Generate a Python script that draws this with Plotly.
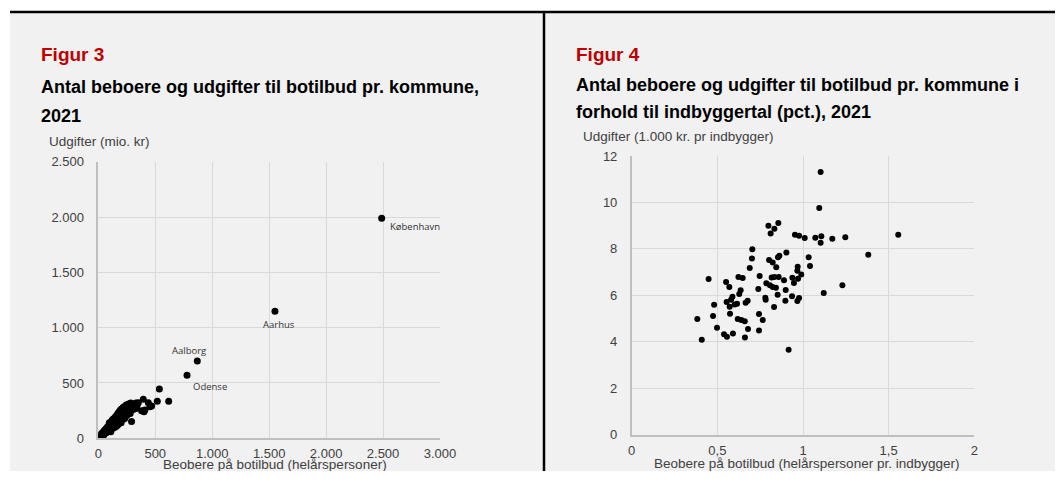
import plotly.graph_objects as go

# ---------------- DATA ----------------
# Figur 3: beboere (helårspersoner) vs udgifter (mio. kr)
beboere_abs = [10, 15, 22, 28, 35, 40, 48, 52, 60, 65, 70, 75, 80, 85, 90, 97, 100, 105, 110, 115,
               118, 122, 128, 132, 135, 140, 145, 148, 152, 155, 160, 161, 165, 168, 172, 175, 178, 180, 185, 188,
               190, 195, 198, 200, 205, 208, 212, 215, 220, 225, 228, 232, 238, 240, 245, 250, 255, 260, 265, 270,
               275, 280, 285, 292, 298, 305, 307, 315, 320, 330, 337, 345, 351, 380, 395, 401, 409, 439, 454, 468,
               518, 536, 618, 779, 869, 1551, 2488]
udgifter_abs = [8, 25, 10, 40, 22, 55, 30, 70, 45, 85, 50, 95, 60, 110, 70, 141, 85, 130, 60, 150,
                95, 165, 90, 175, 120, 180, 100, 190, 130, 200, 110, 150, 210, 140, 225, 125, 230, 160, 240, 150,
                250, 175, 260, 140, 265, 190, 270, 170, 280, 200, 285, 180, 290, 215, 300, 205, 295, 230, 310, 240,
                305, 225, 320, 151, 280, 300, 260, 310, 270, 320, 271, 310, 322, 250, 352, 240, 256, 322, 286, 292,
                334, 446, 334, 569, 699, 1148, 1988]
label_names = ["København", "Aarhus", "Aalborg", "Odense"]
label_x = [2488, 1551, 869, 779]
label_y = [1988, 1148, 699, 569]

# Figur 4: beboere pr. indbygger (pct.) vs udgifter (1.000 kr. pr indbygger)
beboere_rel = [1.103, 1.095, 0.798, 0.856, 0.811, 0.833, 0.953, 0.977, 1.010, 1.072, 1.107, 1.103, 1.171, 1.247,
               1.556, 1.381, 0.704, 0.903, 0.702, 0.862, 0.854, 1.033, 0.802, 0.823, 0.689, 0.844, 0.969, 1.041,
               0.967, 0.990, 0.449, 0.623, 0.648, 0.747, 0.817, 0.833, 0.858, 0.938, 0.971, 0.889, 0.551, 0.786,
               0.947, 0.807, 0.570, 0.823, 1.230, 0.842, 0.739, 0.899, 0.636, 0.628, 0.852, 1.121, 0.588, 0.936,
               0.780, 0.977, 0.580, 0.677, 0.782, 0.897, 0.967, 0.554, 0.665, 0.615, 0.481, 0.601, 0.572, 0.831,
               0.574, 0.743, 0.475, 0.383, 0.619, 0.640, 0.660, 0.765, 0.498, 0.679, 0.743, 0.539, 0.591, 0.556,
               0.661, 0.409, 0.916]
udgifter_rel = [11.31, 9.76, 9.00, 9.11, 8.66, 8.87, 8.61, 8.57, 8.47, 8.48, 8.55, 8.27, 8.44, 8.50,
                8.61, 7.75, 7.99, 7.84, 7.59, 7.71, 7.64, 7.64, 7.52, 7.41, 7.18, 7.21, 7.23, 7.26,
                7.06, 6.90, 6.70, 6.79, 6.75, 6.83, 6.77, 6.79, 6.79, 6.76, 6.72, 6.65, 6.57, 6.52,
                6.53, 6.43, 6.36, 6.36, 6.43, 6.33, 6.27, 6.23, 6.22, 6.06, 6.03, 6.10, 5.94, 5.96,
                5.90, 5.89, 5.81, 5.77, 5.81, 5.77, 5.76, 5.71, 5.68, 5.64, 5.60, 5.61, 5.51, 5.50,
                5.21, 5.20, 5.11, 4.98, 4.98, 4.94, 4.89, 4.94, 4.61, 4.55, 4.49, 4.33, 4.36, 4.22,
                4.19, 4.09, 3.66]

x_ticks_abs = [0, 500, 1000, 1500, 2000, 2500, 3000]
y_ticks_abs = [0, 500, 1000, 1500, 2000, 2500]
x_ticks_rel = [0, 0.5, 1, 1.5, 2]
y_ticks_rel = [0, 2, 4, 6, 8, 10, 12]

# ---------------- LAYOUT ----------------
# The page body keeps the browser's default 8px margin; the figure is sized
# so the page is exactly the 1063x479 window, and positions are given in
# window pixels, shifted by that margin.
PAGE_W, PAGE_H = 1063, 479
OFF = 8
W, H = PAGE_W - 2 * OFF, PAGE_H - 2 * OFF
BG = "#f1f1f1"
GRID = "#d9d9d9"
AXLINE = "#bfbfbf"
TXT = "#404040"
FONT = "Liberation Sans, Arial, sans-serif"


def px_x(p):
    return (p - OFF) / W


def px_y(p):
    return 1 - (p - OFF) / H


fig = go.Figure()

fig.add_trace(go.Scatter(x=beboere_abs, y=udgifter_abs, mode="markers",
                         marker=dict(color="black", size=7), xaxis="x", yaxis="y",
                         showlegend=False, hoverinfo="x+y"))
fig.add_trace(go.Scatter(x=beboere_rel, y=udgifter_rel, mode="markers",
                         marker=dict(color="black", size=6), xaxis="x2", yaxis="y2",
                         showlegend=False, hoverinfo="x+y"))

axis_common = dict(showgrid=True, gridcolor=GRID, gridwidth=1, zeroline=False,
                   showline=True, linecolor=AXLINE, linewidth=1.5, mirror=False,
                   tickfont=dict(family=FONT, size=13, color=TXT), ticks="",
                   fixedrange=True, automargin=False)

fig.update_layout(
    width=W, height=H, autosize=False,
    margin=dict(l=0, r=0, t=0, b=0, pad=0, autoexpand=False),
    paper_bgcolor=BG,
    plot_bgcolor="rgba(0,0,0,0)",
    separators=",.",
    showlegend=False,
    xaxis=dict(axis_common, domain=[px_x(98.3), px_x(440)], range=[0, 3000],
               tickvals=x_ticks_abs, tickformat=",d", anchor="y", ticklabelstandoff=2),
    yaxis=dict(axis_common, domain=[px_y(438.3), px_y(161.7)], range=[0, 2500],
               tickvals=y_ticks_abs, tickformat=",d", anchor="x", ticklabelstandoff=10),
    xaxis2=dict(axis_common, domain=[px_x(631.7), px_x(974.3)], range=[0, 2],
                tickvals=x_ticks_rel, anchor="y2", ticklabelstandoff=3),
    yaxis2=dict(axis_common, domain=[px_y(434.7), px_y(156)], range=[0, 12],
                tickvals=y_ticks_rel, anchor="x2", ticklabelstandoff=10),
)

shapes = [
    dict(type="rect", xref="paper", yref="paper", x0=0, x1=1, y0=px_y(12), y1=1,
         fillcolor="white", line=dict(width=0), layer="below"),
    dict(type="rect", xref="paper", yref="paper", x0=0, x1=px_x(10), y0=0, y1=1,
         fillcolor="white", line=dict(width=0), layer="below"),
    dict(type="line", xref="paper", yref="paper", x0=px_x(10), x1=1, y0=px_y(12), y1=px_y(12),
         line=dict(color="black", width=2.5)),
    dict(type="line", xref="paper", yref="paper", x0=px_x(544), x1=px_x(544), y0=0, y1=px_y(12),
         line=dict(color="black", width=2.5)),
]
fig.update_layout(shapes=shapes)

ann = []


def text(x, y, s, size, color="black", bold=False, xanchor="left", family=FONT):
    ann.append(dict(xref="paper", yref="paper", x=px_x(x), y=px_y(y), text=("<b>%s</b>" % s) if bold else s,
                    showarrow=False, xanchor=xanchor, yanchor="middle",
                    font=dict(family=family, size=size, color=color)))


text(39, 54, "Figur 3", 19, "#c00000", True)
text(39, 87, "Antal beboere og udgifter til botilbud pr. kommune,", 18, "black", True)
text(39, 116, "2021", 18, "black", True)
text(47, 141, "Udgifter (mio. kr)", 13.5, TXT)
text(275, 464, "Beobere på botilbud (helårspersoner)", 13.5, TXT, xanchor="center")

text(574, 54, "Figur 4", 19, "#c00000", True)
text(574, 85, "Antal beboere og udgifter til botilbud pr. kommune i", 18, "black", True)
text(574, 112, "forhold til indbyggertal (pct.), 2021", 18, "black", True)
text(581, 136, "Udgifter (1.000 kr. pr indbygger)", 13.5, TXT)
text(806, 463, "Beobere på botilbud (helårspersoner pr. indbygger)", 13.5, TXT, xanchor="center")

# point labels
label_offsets = [(6, -8, "left"), (4, -13, "center"), (-8, 10, "center"), (23, -11, "center")]
for name, lx, ly, (dx, dy, xa) in zip(label_names, label_x, label_y, label_offsets):
    ann.append(dict(xref="x", yref="y", x=lx, y=ly, text=name, showarrow=False,
                    xanchor=xa, yanchor="middle", xshift=dx, yshift=dy,
                    font=dict(family="Open Sans, sans-serif", size=9.5, color="#333333")))

fig.update_layout(annotations=ann)

fig.write_html("out.html", config={"responsive": False, "displayModeBar": False})
